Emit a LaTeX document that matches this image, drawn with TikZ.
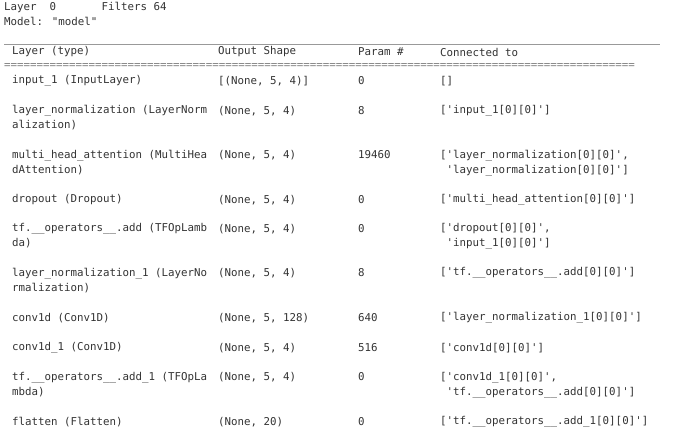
\documentclass[tikz,border=0pt]{standalone}
\usepackage{fontspec}
\newfontfamily\mono{DejaVu Sans Mono}
\definecolor{txt}{HTML}{333333}
\begin{document}
\begin{tikzpicture}[x=1pt,y=-1pt,
  t/.style={anchor=west,inner sep=0pt,text=txt,font=\mono\fontsize{10.8}{15}\selectfont,align=left},
  rule/.style={draw=gray!80,line width=0.8pt}]
\useasboundingbox (0,0) rectangle (680,439);
\fill[white] (0,0) rectangle (680,439);
\node[t] (h1) at (4,7) {Layer\ \ 0\ \ \ \ \ \ \ Filters 64};
\node[t] (h2) at (4,21) {Model: "model"};
\coordinate (r1a) at (4,44); \coordinate (r1b) at (660,44);
\draw[rule] (r1a) -- (r1b);
\node[t] (c1) at (12,52) {Layer (type)};
\node[t] (c2) at (218,52) {Output Shape};
\node[t] (c3) at (358,52) {Param \#};
\node[t] (c4) at (440,52) {Connected to};
\node[t,text=gray] (eq) at (4,66) {=================================================================================================};
% rows
\node[t] (a1) at (12,81) {input\_1 (InputLayer)};
\node[t] (a2) at (218,81) {[(None, 5, 4)]};
\node[t] (a3) at (358,81) {0};
\node[t] (a4) at (440,81) {[]};
\node[t] (b1) at (12,118) {layer\_normalization (LayerNorm\\alization)};
\node[t] (b2) at (218,111) {(None, 5, 4)};
\node[t] (b3) at (358,111) {8};
\node[t] (b4) at (440,111) {['input\_1[0][0]']};
\node[t] (d1) at (12,163) {multi\_head\_attention (MultiHea\\dAttention)};
\node[t] (d2) at (218,155) {(None, 5, 4)};
\node[t] (d3) at (358,155) {19460};
\node[t] (d4) at (440,163) {['layer\_normalization[0][0]',\\\ 'layer\_normalization[0][0]']};
\node[t] (e1) at (12,200) {dropout (Dropout)};
\node[t] (e2) at (218,200) {(None, 5, 4)};
\node[t] (e3) at (358,200) {0};
\node[t] (e4) at (440,200) {['multi\_head\_attention[0][0]']};
\node[t] (f1) at (12,236) {tf.\_\_operators\_\_.add (TFOpLamb\\da)};
\node[t] (f2) at (218,229) {(None, 5, 4)};
\node[t] (f3) at (358,229) {0};
\node[t] (f4) at (440,236) {['dropout[0][0]',\\\ 'input\_1[0][0]']};
\node[t] (g1) at (12,281) {layer\_normalization\_1 (LayerNo\\rmalization)};
\node[t] (g2) at (218,273) {(None, 5, 4)};
\node[t] (g3) at (358,273) {8};
\node[t] (g4) at (440,273) {['tf.\_\_operators\_\_.add[0][0]']};
\node[t] (i1) at (12,318) {conv1d (Conv1D)};
\node[t] (i2) at (218,318) {(None, 5, 128)};
\node[t] (i3) at (358,318) {640};
\node[t] (i4) at (440,318) {['layer\_normalization\_1[0][0]']};
\node[t] (j1) at (12,348) {conv1d\_1 (Conv1D)};
\node[t] (j2) at (218,348) {(None, 5, 4)};
\node[t] (j3) at (358,348) {516};
\node[t] (j4) at (440,348) {['conv1d[0][0]']};
\node[t] (k1) at (12,385) {tf.\_\_operators\_\_.add\_1 (TFOpLa\\mbda)};
\node[t] (k2) at (218,377) {(None, 5, 4)};
\node[t] (k3) at (358,377) {0};
\node[t] (k4) at (440,385) {['conv1d\_1[0][0]',\\\ 'tf.\_\_operators\_\_.add[0][0]']};
\node[t] (l1) at (12,422) {flatten (Flatten)};
\node[t] (l2) at (218,422) {(None, 20)};
\node[t] (l3) at (358,422) {0};
\node[t] (l4) at (440,422) {['tf.\_\_operators\_\_.add\_1[0][0]']};
\end{tikzpicture}
\end{document}
